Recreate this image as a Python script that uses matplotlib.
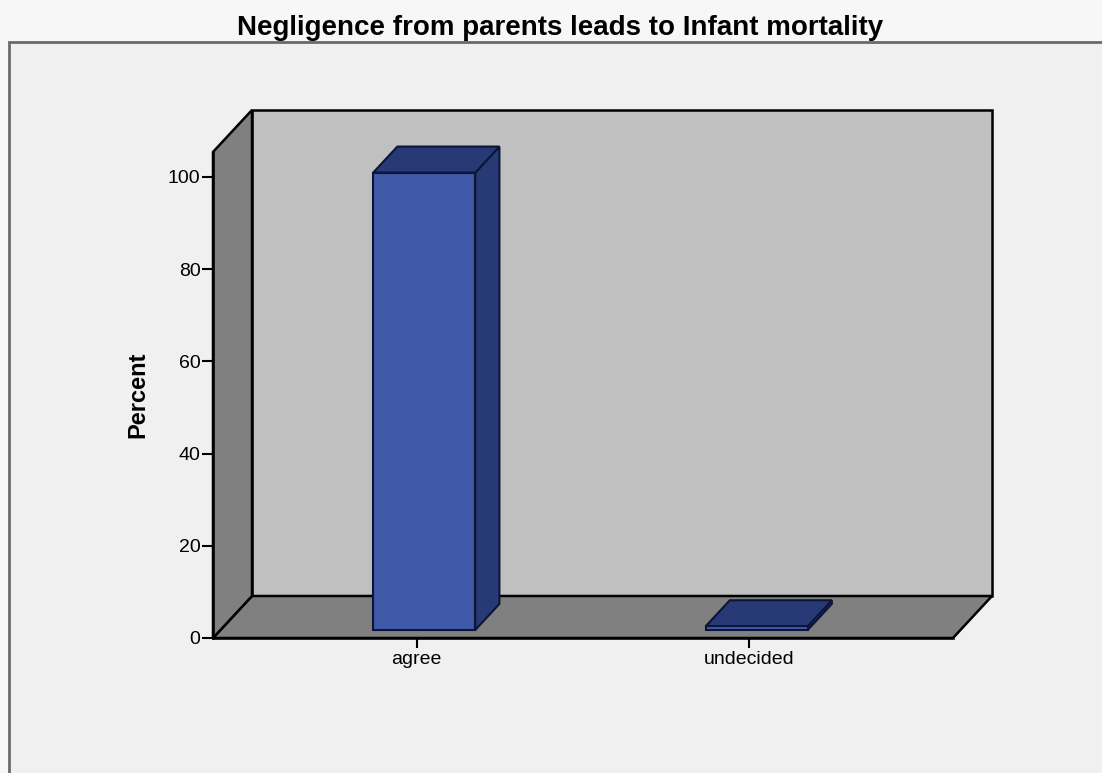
import matplotlib
matplotlib.use('Agg')
import matplotlib.pyplot as plt
from matplotlib.patches import Polygon, Rectangle

categories = ['agree', 'undecided']
percent = [99.2, 0.8]
y_ticks = [0, 20, 40, 60, 80, 100]

plt.rcParams['font.family'] = ['Liberation Sans', 'DejaVu Sans']

W, H = 1102, 773
fig = plt.figure(figsize=(W / 100, H / 100), dpi=100)
fig.patch.set_facecolor('#f7f7f7')

# outer chart frame
fig.add_artist(Rectangle((9 / W, -0.02), 1.1, (H - 42) / H + 0.02,
                         transform=fig.transFigure, facecolor='#f0f0f0',
                         edgecolor='#6a6a6a', linewidth=2, zorder=0))

# front face of the 3d box in pixels
left, right, bottom, top = 213, 953, 638, 152
ax = fig.add_axes([left / W, (H - bottom) / H, (right - left) / W, (bottom - top) / H])
ax.set_facecolor('none')
xmin, xmax = -0.613, 1.613
ymax = 105.4
ax.set_xlim(xmin, xmax)
ax.set_ylim(0, ymax)

# depth offset in data units
dx = 39 / (right - left) * (xmax - xmin)
dy = 42 / (bottom - top) * ymax

def poly(pts, fc, z, lw=1.8, ec='black'):
    ax.add_patch(Polygon(pts, closed=True, facecolor=fc, edgecolor=ec,
                         linewidth=lw, clip_on=False, zorder=z, joinstyle='miter'))

wall_back = '#c0c0c0'
wall_side = '#808080'
poly([(xmin + dx, dy), (xmax + dx, dy), (xmax + dx, ymax + dy), (xmin + dx, ymax + dy)], wall_back, 1)
poly([(xmin, 0), (xmax, 0), (xmax + dx, dy), (xmin + dx, dy)], wall_side, 2)
poly([(xmin, 0), (xmin + dx, dy), (xmin + dx, ymax + dy), (xmin, ymax)], wall_side, 2)

bar_w = 0.307
f0, f1 = 0.19, 0.81
front_c = '#4058a8'
dark_c = '#283a76'
edge_c = '#0c1438'
for i, v in enumerate(percent):
    xl = i - bar_w / 2
    xr = i + bar_w / 2
    a0x, a0y = f0 * dx, f0 * dy
    a1x, a1y = f1 * dx, f1 * dy
    poly([(xr + a0x, a0y), (xr + a1x, a1y), (xr + a1x, v + a1y), (xr + a0x, v + a0y)], dark_c, 3, 1.5, edge_c)
    poly([(xl + a0x, v + a0y), (xr + a0x, v + a0y), (xr + a1x, v + a1y), (xl + a1x, v + a1y)], dark_c, 3, 1.5, edge_c)
    poly([(xl + a0x, a0y), (xr + a0x, a0y), (xr + a0x, v + a0y), (xl + a0x, v + a0y)], front_c, 4, 1.5, edge_c)

for s in ['top', 'right']:
    ax.spines[s].set_visible(False)
for s in ['left', 'bottom']:
    ax.spines[s].set_linewidth(1.8)
    ax.spines[s].set_zorder(5)

ax.set_yticks(y_ticks)
ax.set_xticks(range(len(categories)))
ax.set_xticklabels(categories)
ax.tick_params(axis='y', length=8, width=1.5, labelsize=14, pad=1, colors='black')
ax.tick_params(axis='x', length=7, width=1.5, labelsize=14, pad=2, colors='black')

fig.text(560 / W, (H - 35) / H, 'Negligence from parents leads to Infant mortality',
         ha='center', va='baseline', fontsize=20, fontweight='bold')
fig.text(138 / W, (H - 395) / H, 'Percent', rotation=90, ha='center', va='center',
         fontsize=17, fontweight='bold')

fig.savefig('out.png', dpi=100, facecolor=fig.get_facecolor())
